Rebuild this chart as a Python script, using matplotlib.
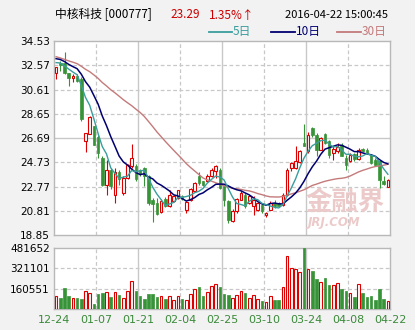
import numpy as np
import pandas as pd
import matplotlib
matplotlib.use("Agg")
import matplotlib.pyplot as plt

plt.rcParams['font.family'] = ['DejaVu Sans', 'Noto Sans CJK SC']

# daily data, 2015-12-24 .. 2016-04-22
opens = [31.92, 32.75, 32.78, 31.92, 31.55, 31.70, 31.44, 26.41, 27.03, 27.67,
         26.81, 25.07, 22.90, 24.13, 22.11, 23.91, 22.24, 23.45, 24.40, 24.45,
         24.07, 24.26, 23.59, 21.71, 21.44, 20.69, 21.76, 21.17, 21.58, 21.84,
         22.03, 20.90, 21.71, 22.38, 23.59, 23.18, 23.18, 23.59, 24.00, 24.13,
         22.78, 21.60, 19.96, 20.77, 21.71, 22.11, 21.44, 21.22, 20.90, 21.30,
         20.45, 20.90, 21.44, 21.44, 21.30, 22.11, 24.26, 24.26, 24.72, 26.28,
         25.60, 27.49, 26.95, 25.74, 27.03, 26.41, 25.47, 25.60, 26.14, 25.07,
         24.80, 25.39, 24.99, 25.79, 25.74, 25.34, 24.93, 24.80, 23.18, 22.73]
highs = [32.46, 32.90, 33.64, 31.95, 31.90, 31.90, 31.60, 27.12, 28.48, 27.70,
         26.90, 25.20, 24.93, 24.30, 24.26, 24.10, 23.60, 24.60, 26.20, 24.60,
         24.20, 24.35, 23.70, 21.85, 21.85, 21.76, 21.90, 22.51, 22.10, 22.51,
         22.10, 21.57, 22.65, 23.10, 23.94, 23.25, 23.78, 24.26, 24.48, 24.26,
         22.80, 21.65, 20.95, 21.84, 22.38, 22.24, 22.05, 21.98, 21.50, 21.44,
         20.70, 21.57, 21.71, 21.50, 22.24, 24.26, 24.72, 26.06, 25.69, 27.84,
         27.14, 27.57, 27.08, 26.76, 27.08, 26.49, 26.06, 26.28, 26.28, 25.34,
         25.47, 25.47, 25.87, 25.87, 25.87, 25.42, 25.05, 24.93, 23.59, 23.40]
lows = [31.44, 32.10, 31.85, 30.93, 31.20, 31.25, 28.10, 25.52, 27.00, 26.10,
        25.07, 22.80, 22.11, 22.60, 21.44, 22.90, 22.10, 23.40, 24.26, 23.20,
        23.60, 22.80, 21.30, 19.88, 20.50, 20.63, 21.10, 21.12, 21.50, 21.76,
        21.70, 20.63, 21.60, 22.30, 22.92, 22.85, 23.10, 23.53, 23.45, 22.57,
        21.17, 19.78, 19.88, 20.63, 21.65, 21.04, 21.38, 20.50, 20.80, 20.63,
        20.30, 20.85, 21.04, 21.10, 21.22, 21.98, 24.00, 24.21, 24.66, 26.01,
        25.47, 26.81, 25.20, 25.69, 26.22, 25.07, 24.93, 25.47, 25.20, 24.13,
        24.74, 24.80, 24.93, 25.52, 25.42, 24.61, 24.40, 22.65, 22.92, 22.70]
closes = [32.41, 32.55, 31.92, 31.52, 31.70, 31.33, 28.21, 27.08, 28.37, 26.14,
          25.47, 22.90, 24.13, 22.78, 23.91, 23.37, 23.45, 24.53, 25.07, 23.37,
          23.80, 23.59, 21.44, 21.38, 20.58, 21.57, 21.17, 22.11, 21.98, 22.46,
          21.76, 21.49, 22.59, 23.05, 23.05, 22.92, 23.59, 24.13, 24.40, 22.65,
          21.71, 20.10, 20.77, 21.76, 22.24, 21.17, 21.98, 21.71, 21.44, 20.77,
          20.63, 21.44, 21.17, 21.17, 22.11, 24.13, 24.66, 24.80, 25.60, 26.06,
          26.95, 26.95, 25.74, 26.68, 26.28, 25.34, 25.79, 25.95, 25.26, 24.53,
          25.34, 24.99, 25.74, 25.60, 25.47, 24.66, 24.53, 23.32, 23.00, 23.29]
volumes = [105000, 89000, 163000, 105000, 89000, 89000, 82000, 145000, 126000, 42000,
           121000, 129000, 134000, 97000, 134000, 113000, 89000, 145000, 224000, 145000,
           100000, 82000, 121000, 121000, 97000, 103000, 82000, 103000, 71000, 103000,
           82000, 71000, 118000, 161000, 176000, 105000, 134000, 182000, 197000, 176000,
           118000, 113000, 87000, 113000, 145000, 126000, 87000, 110000, 79000, 66000,
           55000, 103000, 74000, 74000, 174000, 418000, 324000, 318000, 292000, 481652,
           318000, 303000, 240000, 216000, 247000, 192000, 192000, 205000, 161000, 145000,
           126000, 97000, 197000, 126000, 97000, 105000, 74000, 155000, 82000, 66000]
# closes before 12-24 (only feed the moving averages at the left edge)
prior_closes = [35.6, 35.4, 35.1, 34.9, 34.8, 34.6, 34.4, 34.2, 34.0, 33.8,
                33.0, 32.4, 31.8, 31.5, 31.6, 31.9, 32.0, 32.2, 31.8, 31.8,
                33.2, 33.6, 33.8, 33.5, 33.0, 32.7, 33.1, 32.8, 32.9]

date_labels = ['12-24', '01-07', '01-21', '02-04', '02-25', '03-10', '03-24', '04-08', '04-22']
price_ticks = [18.85, 20.81, 22.77, 24.73, 26.69, 28.65, 30.61, 32.57, 34.53]
vol_ticks = [160551, 321101, 481652]

RED = '#dd0000'
GREEN = '#379337'
MA_COLORS = {5: '#3a9d9d', 10: '#000070', 30: '#c47a7a'}

n = len(closes)
x = np.arange(n)
o = np.array(opens); h = np.array(highs); l = np.array(lows); c = np.array(closes)
up = c >= o

allc = pd.Series(prior_closes + closes)
ma = {k: allc.rolling(k).mean().values[-n:] for k in (5, 10, 30)}

fig = plt.figure(figsize=(4.15, 3.3), dpi=100)
fig.patch.set_facecolor('#f2f2f2')
ax = fig.add_axes([54/415, 1-235/330, 336/415, 194/330])
axv = fig.add_axes([54/415, 1-309/330, 336/415, 61/330])

xt = [-0.5 + 10*k for k in range(len(date_labels))]

for a in (ax, axv):
    a.set_facecolor('white')
    a.set_xlim(-0.5, n-0.5)
    for s in a.spines.values():
        s.set_color('#b8b8b8')
        s.set_linewidth(1)
    for k in range(1, len(xt)-1):
        if k % 2 == 0:
            a.axvline(xt[k], color='#c8c8c8', lw=1, zorder=0)
        else:
            a.axvline(xt[k], color='#c8c8c8', lw=0.9, ls=(0, (3, 2)), zorder=0)
    a.tick_params(length=0, labelsize=7.5, pad=3)

# price panel
ax.set_ylim(price_ticks[0], price_ticks[-1])
ax.set_yticks(price_ticks)
ax.set_yticklabels(['%.2f' % v for v in price_ticks])
ax.set_xticks([])
for i, v in enumerate(price_ticks[1:-1]):
    if abs(v - 26.69) < 0.01:
        ax.axhline(v, color='#c8c8c8', lw=1, zorder=0)
    else:
        ax.axhline(v, color='#c8c8c8', lw=0.9, ls=(0, (3, 2)), zorder=0)

cols = np.where(up, RED, GREEN)
ax.vlines(x, l, h, colors=cols, lw=0.8, zorder=2)
body_lo = np.minimum(o, c)
body_h = np.maximum(np.abs(c - o), 0.04)
ax.bar(x[up], body_h[up], bottom=body_lo[up], width=0.6, facecolor='white',
       edgecolor=RED, lw=0.8, zorder=3)
ax.bar(x[~up], body_h[~up], bottom=body_lo[~up], width=0.6, facecolor=GREEN,
       edgecolor=GREEN, lw=0.5, zorder=3)

for k in (30, 10, 5):
    ax.plot(x, ma[k], color=MA_COLORS[k], lw=1.0 if k != 10 else 1.1, zorder=4)

# watermark
ax.text(0.985, 0.165, '金融界', transform=ax.transAxes, ha='right', va='center',
        fontsize=19, fontweight='bold', color='#eccaca', family=['Noto Sans CJK SC'], zorder=1)
ax.text(0.755, 0.065, 'JRJ.COM', transform=ax.transAxes, ha='left', va='center',
        fontsize=8.5, fontstyle='italic', fontweight='bold', color='#eccaca', zorder=1)

# volume panel
axv.set_ylim(0, vol_ticks[-1])
axv.set_yticks(vol_ticks)
axv.set_yticklabels([str(v) for v in vol_ticks])
for v in vol_ticks[:-1]:
    axv.axhline(v, color='#c8c8c8', lw=0.9, ls=(0, (3, 2)), zorder=0)
vup = up
axv.bar(x[vup], np.array(volumes)[vup], width=0.6, facecolor='white', edgecolor=RED, lw=0.8, zorder=3)
axv.bar(x[~vup], np.array(volumes)[~vup], width=0.6, facecolor=GREEN, edgecolor=GREEN, lw=0.5, zorder=3)
axv.set_xticks(xt)
axv.set_xticklabels(date_labels, color='#3a8a3a', fontsize=8)
axv.tick_params(axis='x', pad=4)

# header
cjk = ['Noto Sans CJK SC', 'DejaVu Sans']
fig.text(55/415, 1-15/330, '中核科技 [000777]', ha='left', va='center', fontsize=8.5, family=cjk)
fig.text(170/415, 1-15/330, '23.29', ha='left', va='center', fontsize=8.5, color='#cc0000', family=cjk)
fig.text(209/415, 1-15/330, '1.35%↑', ha='left', va='center', fontsize=8.5, color='#cc0000', family=cjk)
fig.text(388/415, 1-15/330, '2016-04-22 15:00:45', ha='right', va='center', fontsize=8, family=cjk)

for (x0, x1, lab, k) in [(209, 232, '5日', 5), (271, 295, '10日', 10), (337, 361, '30日', 30)]:
    fig.add_artist(plt.Line2D([x0/415, x1/415], [1-32/330, 1-32/330], color=MA_COLORS[k], lw=1.3))
    fig.text((x1+1)/415, 1-32/330, lab, ha='left', va='center', fontsize=8.5,
             color=MA_COLORS[k], family=cjk)

fig.savefig('out.png', dpi=100, facecolor=fig.get_facecolor())
